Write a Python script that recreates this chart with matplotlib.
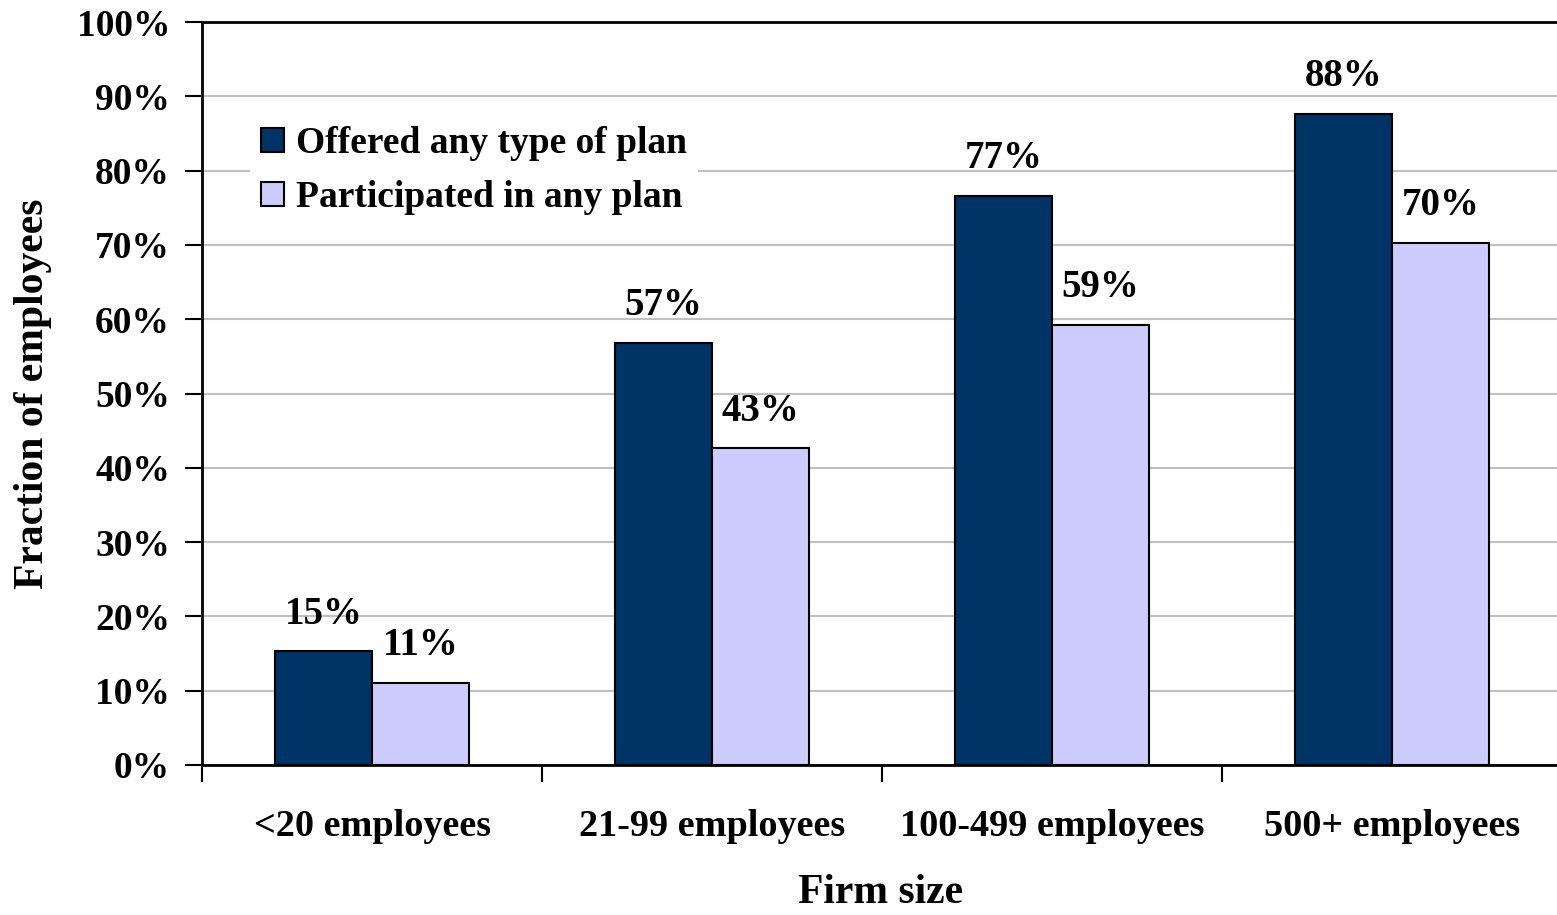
import matplotlib
matplotlib.use("Agg")
import matplotlib.pyplot as plt
import numpy as np
from matplotlib.patches import Patch

categories = ["<20 employees", "21-99 employees", "100-499 employees", "500+ employees"]
offered = [15.3, 56.8, 76.6, 87.6]
participated = [11.0, 42.6, 59.2, 70.3]
series_names = ["Offered any type of plan", "Participated in any plan"]
colors = ["#003366", "#ccccff"]
yticks = list(range(0, 101, 10))

plt.rcParams["font.family"] = ["Liberation Serif", "DejaVu Serif"]
plt.rcParams["font.weight"] = "bold"

W, H = 1557, 915
fig = plt.figure(figsize=(W / 100, H / 100), dpi=100)
left, right, top, bottom = 202, 1562, 22, 765
ax = fig.add_axes([left / W, 1 - bottom / H, (right - left) / W, (bottom - top) / H])

x = np.arange(len(categories))
bw = 0.285
b1 = ax.bar(x - bw / 2, offered, bw, color=colors[0], edgecolor="black", linewidth=1.5, zorder=3)
b2 = ax.bar(x + bw / 2, participated, bw, color=colors[1], edgecolor="black", linewidth=1.5, zorder=3)

for bars, vals in ((b1, offered), (b2, participated)):
    for rect, v in zip(bars, vals):
        ax.annotate(f"{v:.0f}%", (rect.get_x() + rect.get_width() / 2, v),
                    xytext=(0, 20), textcoords="offset points",
                    ha="center", va="baseline", fontsize=28, fontweight="bold", zorder=5)

ax.set_xlim(-0.5, len(categories) - 0.5)
ax.set_ylim(0, 100)
ax.set_yticks(yticks)
ax.set_yticklabels([f"{t}%" for t in yticks], fontsize=27, fontweight="bold")
ax.set_xticks(np.arange(len(categories) + 1) - 0.5)
ax.set_xticklabels([])
ax.set_xticks(x, minor=True)
ax.set_xticklabels(categories, minor=True, fontsize=27.5, fontweight="bold")
ax.tick_params(axis="x", which="minor", length=0, pad=32)
ax.tick_params(axis="x", which="major", length=12, width=1.5, direction="out")
ax.tick_params(axis="y", length=12, width=1.5, direction="out", pad=11)

ax.yaxis.grid(True, color="#c0c0c0", linewidth=1.5, zorder=0)
ax.set_axisbelow(True)
for s in ("left", "bottom", "top"):
    ax.spines[s].set_linewidth(2)
    ax.spines[s].set_color("black")
ax.spines["right"].set_visible(False)

ax.set_ylabel("Fraction of employees", fontsize=30, fontweight="bold")
ax.yaxis.label.set_va("center")
ax.yaxis.set_label_coords(-0.124, 0.5)
ax.set_xlabel("Firm size", fontsize=30, fontweight="bold")
ax.xaxis.label.set_va("center")
ax.xaxis.set_label_coords(0.499, -0.172)

handles = [Patch(facecolor=c, edgecolor="black", linewidth=1.5) for c in colors]
leg = ax.legend(handles, series_names, loc="upper left", bbox_to_anchor=(0.035, 0.875),
                prop={"size": 27, "weight": "bold"}, frameon=True, fancybox=False,
                handlelength=0.62, handleheight=0.62, handletextpad=0.32, labelspacing=0.5,
                borderpad=0.3, borderaxespad=0)
leg.get_frame().set_facecolor("white")
leg.get_frame().set_edgecolor("none")
leg.get_frame().set_alpha(1)
leg.set_zorder(4)

fig.savefig("out.png", dpi=100, facecolor="white")
